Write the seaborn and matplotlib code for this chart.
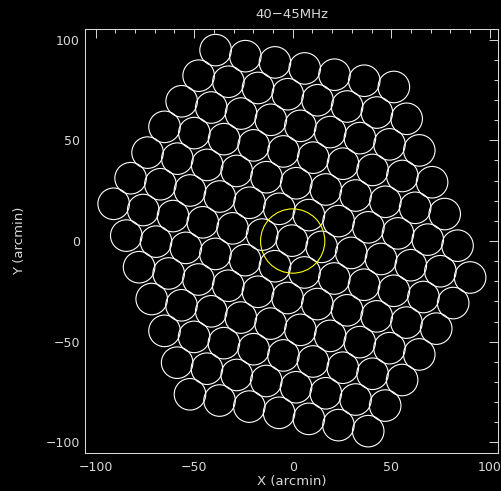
import matplotlib
matplotlib.use("Agg")
import matplotlib.pyplot as plt
import seaborn as sns
from matplotlib.ticker import MultipleLocator, FixedLocator

# Beam centres (arcmin) of the 127-beam hexagonal tiling, listed row by row
beam_x = [
    -52.1, -37.1, -22.0, -6.9, 8.2, 23.2, 38.3,
    -58.6, -43.5, -28.4, -13.4, 1.7, 16.8, 31.9, 46.9,
    -65.0, -50.0, -34.9, -19.8, -4.7, 10.3, 25.4, 40.5, 55.5,
    -71.5, -56.4, -41.3, -26.3, -11.2, 3.9, 19.0, 34.0, 49.1, 64.2,
    -77.9, -62.9, -47.8, -32.7, -17.6, -2.6, 12.5, 27.6, 42.6, 57.7, 72.8,
    -84.4, -69.3, -54.2, -39.2, -24.1, -9.0, 6.0, 21.1, 36.2, 51.3, 66.3, 81.4,
    -90.8, -75.8, -60.7, -45.6, -30.5, -15.5, -0.4, 14.7, 29.7, 44.8, 59.9, 74.9, 90.0,
    -82.2, -67.1, -52.1, -37.0, -21.9, -6.8, 8.2, 23.3, 38.4, 53.4, 68.5, 83.6,
    -73.6, -58.5, -43.4, -28.4, -13.3, 1.8, 16.8, 31.9, 47.0, 62.1, 77.1,
    -65.0, -49.9, -34.8, -19.8, -4.7, 10.4, 25.5, 40.5, 55.6, 70.7,
    -56.3, -41.3, -26.2, -11.1, 3.9, 19.0, 34.1, 49.1, 64.2,
    -47.7, -32.6, -17.6, -2.5, 12.6, 27.6, 42.7, 57.8,
    -39.1, -24.0, -9.0, 6.1, 21.2, 36.3, 51.3,
]
beam_y = [
    -76.1, -79.2, -82.2, -85.3, -88.3, -91.4, -94.4,
    -60.4, -63.4, -66.5, -69.5, -72.6, -75.6, -78.7, -81.7,
    -44.6, -47.6, -50.7, -53.7, -56.8, -59.8, -62.9, -65.9, -69.0,
    -28.8, -31.9, -34.9, -38.0, -41.0, -44.1, -47.1, -50.2, -53.2, -56.3,
    -13.0, -16.1, -19.1, -22.2, -25.2, -28.3, -31.3, -34.4, -37.4, -40.5, -43.5,
    2.7, -0.3, -3.4, -6.4, -9.5, -12.5, -15.6, -18.6, -21.7, -24.7, -27.8, -30.8,
    18.5, 15.4, 12.4, 9.3, 6.3, 3.2, 0.2, -2.9, -5.9, -8.9, -12.0, -15.0, -18.1,
    31.2, 28.2, 25.1, 22.1, 19.0, 16.0, 12.9, 9.9, 6.8, 3.8, 0.7, -2.3,
    43.9, 40.9, 37.8, 34.8, 31.7, 28.7, 25.6, 22.6, 19.5, 16.5, 13.4,
    56.7, 53.6, 50.6, 47.5, 44.5, 41.4, 38.4, 35.3, 32.3, 29.2,
    69.4, 66.3, 63.3, 60.2, 57.2, 54.1, 51.1, 48.0, 45.0,
    82.1, 79.1, 76.0, 72.9, 69.9, 66.8, 63.8, 60.7,
    94.8, 91.8, 88.7, 85.7, 82.6, 79.6, 76.5,
]
beam_radius = 8.0          # arcmin

# Reference field (yellow)
ref_x = [0.0]
ref_y = [0.0]
ref_radius = 16.3          # arcmin

title_text = "40\u221245MHz"
x_label = "X (arcmin)"
y_label = "Y (arcmin)"
major_ticks = [-100, -50, 0, 50, 100]
tick_labels = ["\u2212100", "\u221250", "0", "50", "100"]

fg = "#d8d8d8"
sns.set_style("dark", rc={
    "axes.facecolor": "black",
    "figure.facecolor": "black",
    "axes.edgecolor": fg,
    "axes.labelcolor": fg,
    "text.color": fg,
    "xtick.color": fg,
    "ytick.color": fg,
    "axes.grid": False,
})
plt.rcParams["font.family"] = ["DejaVu Sans"]

fig = plt.figure(figsize=(5.01, 4.91), dpi=100)
ax = fig.add_axes([0.169, 0.078, 0.8257, 0.863])
xlim = (-105.5, 104.3)
ylim = (-105.1, 105.3)
ax.set_xlim(*xlim)
ax.set_ylim(*ylim)


def marker_area(radius):
    """Scatter marker area (pt^2) whose diameter spans 2*radius data units in x."""
    p0 = ax.transData.transform((0.0, 0.0))
    p1 = ax.transData.transform((radius, 0.0))
    diam_pt = 2.0 * (p1[0] - p0[0]) * 72.0 / fig.dpi
    return diam_pt ** 2


sns.scatterplot(x=beam_x, y=beam_y, s=marker_area(beam_radius), marker="o",
                color="none", edgecolor="white", linewidth=0.8, ax=ax,
                legend=False, zorder=2)
ax.collections[-1].set_facecolor("none")

sns.scatterplot(x=ref_x, y=ref_y, s=marker_area(ref_radius), marker="o",
                color="none", edgecolor="#ffff00", linewidth=0.8, ax=ax,
                legend=False, zorder=3)
ax.collections[-1].set_facecolor("none")

ax.set_xlim(*xlim)
ax.set_ylim(*ylim)

ax.xaxis.set_major_locator(FixedLocator(major_ticks))
ax.yaxis.set_major_locator(FixedLocator(major_ticks))
ax.set_xticklabels(tick_labels)
ax.set_yticklabels(tick_labels)
ax.xaxis.set_minor_locator(MultipleLocator(10))
ax.yaxis.set_minor_locator(MultipleLocator(10))
ax.tick_params(which="both", direction="in", top=True, right=True,
               labeltop=False, labelright=False, colors=fg, width=0.7)
ax.tick_params(which="major", length=6.8, labelsize=9)
ax.tick_params(axis="x", which="major", pad=6)
ax.tick_params(axis="y", which="major", pad=3.5)
ax.tick_params(which="minor", length=2.6)

for sp in ax.spines.values():
    sp.set_color(fg)
    sp.set_linewidth(0.75)

ax.set_title(title_text, fontsize=9.5, color=fg, pad=8)
ax.set_xlabel(x_label, fontsize=9.5, labelpad=1)
ax.set_ylabel(y_label, fontsize=9.5, labelpad=14)

fig.savefig("out.png", dpi=100, facecolor="black")
